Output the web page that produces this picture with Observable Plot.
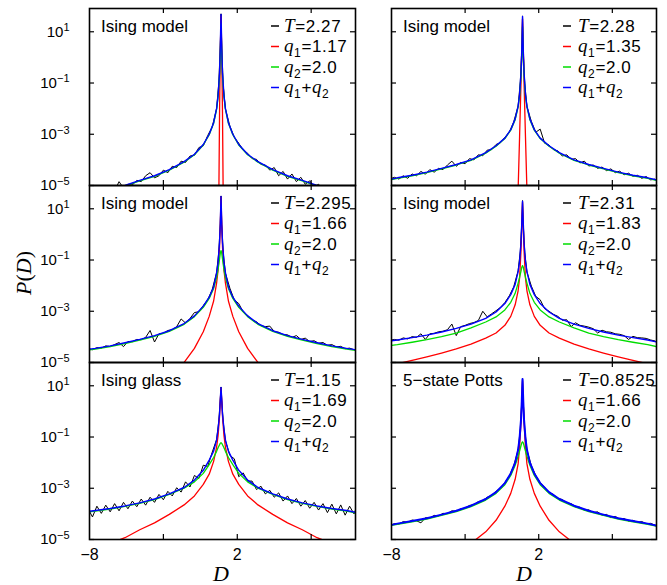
<!DOCTYPE html>
<html><head><meta charset="utf-8">
<script src="https://cdn.jsdelivr.net/npm/d3@7"></script>
<script src="https://cdn.jsdelivr.net/npm/@observablehq/plot@0.6"></script>
<style>
body{margin:0;background:#fff;}
#wrap{position:relative;width:667px;height:585px;overflow:hidden;background:#fff;}
#wrap svg{position:absolute;}
</style></head><body><div id="wrap"></div>
<script>
// ---- labels ----
const titles = ["Ising model","Ising model","Ising model","Ising model","Ising glass","5\u2212state Potts"];
const temps = ["2.27","2.28","2.295","2.31","1.15","0.8525"];
const q1s = ["1.17","1.35","1.66","1.83","1.69","1.66"];
const q2s = ["2.0","2.0","2.0","2.0","2.0","2.0"];
const yTickVals = [1e1, 1e-1, 1e-3, 1e-5];
const xTickVals = [-3, 2, 7];
const xLabelVals = [-8, 2];

// ---- D positions ----
const fitD = [-8,-7.6,-6.6,-5.6,-4.6,-3.6,-2.6,-1.6,-0.9,-0.3,0.1,0.4,0.6,0.7,0.8,0.85,0.9,0.95,1.0,1.1,1.2,1.4,1.7,2.1,2.7,3.4,4.4,5.4,6.4,7.4,8.4,9.4,10];
const blackD = [-8,-7.8,-7.5,-7.2,-6.9,-6.6,-6.3,-6.0,-5.7,-5.4,-5.1,-4.8,-4.5,-4.2,-3.9,-3.6,-3.3,-3.0,-2.7,-2.4,-2.1,-1.8,-1.5,-1.2,-0.9,-0.6,-0.3,0.0,0.3,0.6,
  0.75,0.85,0.9,0.95,1.05,
  1.2,1.5,1.8,2.1,2.4,2.7,3.0,3.3,3.6,3.9,4.2,4.5,4.8,5.1,5.4,5.7,6.0,6.3,6.6,6.9,7.2,7.5,7.8,8.1,8.4,8.7,9.0,9.3,9.6,9.9,10];

// ---- log10 P(D) values ----
// panel 1 : Ising model T=2.27
const black1 = [-5.32,-5.35,-5.2,-5.3,-5.25,-5.05,-5.2,-4.85,-5.1,-4.95,-4.98,-4.8,-4.85,-4.62,-4.5,-4.7,-4.62,-4.4,-4.5,-4.25,-4.3,-4.05,-4.1,-3.85,-3.82,-3.52,-3.45,-3.05,-2.72,-2.0,
  -1.0,0.45,1.7,0.35,-1.1,
  -2.02,-2.68,-3.12,-3.35,-3.62,-3.74,-3.95,-3.98,-4.18,-4.2,-4.4,-4.3,-4.62,-4.45,-4.75,-4.55,-4.85,-4.68,-4.95,-4.82,-5.05,-4.95,-5.15,-5.05,-5.25,-5.15,-5.3,-5.22,-5.35,-5.3,-5.35];
const red1 = [-12,-12,-12,-12,-12,-12,-12,-12,-12,-12,-12,-12,-12,-9,-2.2,0.2,1.6,0.2,-2.2,-9,-12,-12,-12,-12,-12,-12,-12,-12,-12,-12,-12,-12,-12];
const green1 = [-5.34,-5.3,-5.17,-5.02,-4.82,-4.64,-4.4,-4.09,-3.8,-3.42,-3.02,-2.57,-2.03,-1.55,-0.75,0.1,1.3,0.1,-0.75,-1.55,-2.03,-2.57,-3.02,-3.42,-3.8,-4.09,-4.4,-4.64,-4.82,-5.02,-5.17,-5.3,-5.37];
const blue1 = [-5.32,-5.28,-5.15,-5.0,-4.8,-4.62,-4.38,-4.07,-3.78,-3.4,-3.0,-2.55,-2.0,-1.5,-0.6,0.4,1.68,0.4,-0.6,-1.5,-2.0,-2.55,-3.0,-3.4,-3.78,-4.07,-4.38,-4.62,-4.8,-5.0,-5.15,-5.28,-5.35];
// panel 2 : Ising model T=2.28
const black2 = [-4.72,-4.68,-4.75,-4.62,-4.72,-4.55,-4.62,-4.45,-4.56,-4.38,-4.48,-4.33,-4.38,-4.2,-4.05,-4.25,-4.1,-4.15,-3.95,-4.0,-3.8,-3.84,-3.62,-3.6,-3.4,-3.33,-3.12,-2.92,-2.52,-1.9,
  -0.95,0.32,1.62,0.28,-1.02,
  -1.92,-2.5,-2.92,-2.8,-3.35,-3.42,-3.6,-3.65,-3.85,-3.8,-3.98,-3.95,-4.12,-4.05,-4.24,-4.2,-4.33,-4.28,-4.42,-4.35,-4.5,-4.44,-4.58,-4.52,-4.64,-4.6,-4.72,-4.65,-4.78,-4.75,-4.8];
const red2 = [-12,-12,-12,-12,-12,-12,-12,-12,-12,-12,-12,-8.5,-5.2,-3.1,-0.9,0.35,1.5,0.35,-0.9,-3.1,-5.2,-8.5,-12,-12,-12,-12,-12,-12,-12,-12,-12,-12,-12];
const green2 = [-4.77,-4.72,-4.62,-4.5,-4.35,-4.2,-4.02,-3.74,-3.47,-3.17,-2.84,-2.43,-1.94,-1.52,-0.7,0.05,1.2,0.05,-0.7,-1.52,-1.94,-2.43,-2.84,-3.17,-3.47,-3.74,-4.02,-4.2,-4.35,-4.5,-4.62,-4.72,-4.8];
const blue2 = [-4.75,-4.7,-4.6,-4.48,-4.33,-4.18,-4.0,-3.72,-3.45,-3.15,-2.82,-2.4,-1.9,-1.45,-0.55,0.3,1.6,0.3,-0.55,-1.45,-1.9,-2.4,-2.82,-3.15,-3.45,-3.72,-4.0,-4.18,-4.33,-4.48,-4.6,-4.7,-4.78];
// panel 3 : Ising model T=2.295
const black3 = [-4.47,-4.5,-4.42,-4.44,-4.35,-4.38,-4.3,-4.22,-4.38,-4.18,-4.19,-4.1,-4.11,-4.02,-3.75,-4.2,-3.88,-3.86,-3.75,-3.72,-3.6,-3.3,-3.46,-3.28,-3.05,-3.02,-2.78,-2.55,-2.16,-1.5,
  -0.68,0.42,1.5,0.38,-0.72,
  -1.52,-2.1,-2.56,-2.7,-3.03,-3.16,-3.34,-3.41,-3.56,-3.6,-3.58,-3.79,-3.82,-3.91,-3.92,-4.02,-3.95,-4.1,-4.05,-4.18,-4.15,-4.25,-4.22,-4.33,-4.3,-4.39,-4.37,-4.46,-4.44,-4.5,-4.52];
const red3 = [-7.05,-7.0,-6.8,-6.6,-6.3,-6.0,-5.6,-5.0,-4.45,-3.8,-3.2,-2.6,-1.9,-1.4,-0.5,0.35,1.45,0.35,-0.5,-1.4,-1.9,-2.6,-3.2,-3.8,-4.45,-5.0,-5.6,-6.0,-6.3,-6.6,-6.8,-7.0,-7.1];
const green3 = [-4.51,-4.48,-4.38,-4.26,-4.13,-3.98,-3.79,-3.51,-3.21,-2.85,-2.5,-2.11,-1.69,-1.38,-0.96,-0.74,-0.63,-0.74,-0.96,-1.38,-1.69,-2.11,-2.5,-2.85,-3.21,-3.51,-3.79,-3.98,-4.13,-4.26,-4.38,-4.48,-4.53];
const blue3 = [-4.48,-4.45,-4.35,-4.23,-4.1,-3.95,-3.76,-3.48,-3.18,-2.8,-2.45,-2.05,-1.5,-1.1,-0.3,0.4,1.48,0.4,-0.3,-1.1,-1.5,-2.05,-2.45,-2.8,-3.18,-3.48,-3.76,-3.95,-4.1,-4.23,-4.35,-4.45,-4.5];
// panel 4 : Ising model T=2.31
const black4 = [-4.12,-4.1,-4.13,-4.04,-4.08,-3.99,-4.02,-3.88,-4.1,-3.88,-3.86,-3.8,-3.78,-3.72,-3.5,-3.95,-3.6,-3.55,-3.48,-3.44,-3.36,-3.0,-3.22,-3.1,-2.98,-2.85,-2.66,-2.4,-2.05,-1.42,
  -0.65,0.47,1.32,0.43,-0.7,
  -1.47,-2.02,-2.42,-2.55,-2.9,-3.0,-3.12,-3.2,-3.35,-3.33,-3.6,-3.45,-3.55,-3.58,-3.62,-3.68,-3.85,-3.74,-3.8,-3.82,-3.88,-3.9,-3.95,-4.1,-3.98,-4.03,-4.04,-4.06,-4.12,-4.16,-4.2];
const red4 = [-5.1,-5.05,-4.92,-4.78,-4.63,-4.47,-4.28,-4.05,-3.85,-3.55,-3.2,-2.75,-2.2,-1.7,-0.6,0.3,1.25,0.3,-0.6,-1.7,-2.2,-2.75,-3.2,-3.55,-3.85,-4.05,-4.28,-4.47,-4.63,-4.78,-4.92,-5.05,-5.12];
const green4 = [-4.33,-4.3,-4.21,-4.11,-3.99,-3.85,-3.65,-3.42,-3.22,-2.95,-2.65,-2.3,-1.9,-1.68,-1.42,-1.28,-1.22,-1.28,-1.42,-1.68,-1.9,-2.3,-2.65,-2.95,-3.22,-3.42,-3.65,-3.85,-3.99,-4.11,-4.21,-4.3,-4.38];
const blue4 = [-4.15,-4.12,-4.03,-3.93,-3.81,-3.67,-3.5,-3.28,-3.03,-2.7,-2.35,-1.95,-1.45,-1.05,-0.3,0.45,1.3,0.45,-0.3,-1.05,-1.45,-1.95,-2.35,-2.7,-3.03,-3.28,-3.5,-3.67,-3.81,-3.93,-4.03,-4.12,-4.2];
// panel 5 : Ising glass T=1.15
const black5 = [-3.9,-4.12,-3.7,-3.98,-3.66,-3.92,-3.6,-3.88,-3.55,-3.8,-3.5,-3.72,-3.42,-3.66,-3.35,-3.55,-3.24,-3.45,-3.12,-3.3,-2.98,-3.15,-2.75,-2.95,-2.5,-2.62,-2.1,-2.15,-1.6,-1.1,
  -0.38,0.47,0.95,0.42,-0.42,
  -1.15,-1.72,-1.85,-2.55,-2.4,-2.72,-2.72,-3.05,-2.92,-3.22,-3.08,-3.35,-3.18,-3.5,-3.3,-3.6,-3.4,-3.7,-3.48,-3.78,-3.55,-3.85,-3.6,-3.95,-3.62,-4.0,-3.65,-4.05,-3.7,-4.0,-3.85];
const red5 = [-5.42,-5.35,-5.15,-4.93,-4.62,-4.35,-4.02,-3.65,-3.3,-2.85,-2.45,-1.95,-1.4,-0.95,-0.2,0.4,0.9,0.4,-0.2,-0.95,-1.4,-1.95,-2.45,-2.85,-3.3,-3.65,-4.02,-4.35,-4.62,-4.93,-5.15,-5.35,-5.45];
const green5 = [-3.92,-3.89,-3.81,-3.71,-3.59,-3.44,-3.24,-3.0,-2.75,-2.42,-2.08,-1.8,-1.56,-1.42,-1.3,-1.25,-1.22,-1.25,-1.3,-1.42,-1.56,-1.8,-2.08,-2.42,-2.75,-3.0,-3.24,-3.44,-3.59,-3.71,-3.81,-3.89,-3.96];
const blue5 = [-3.9,-3.87,-3.79,-3.69,-3.57,-3.42,-3.22,-2.97,-2.68,-2.3,-1.9,-1.55,-1.12,-0.7,-0.1,0.45,0.93,0.45,-0.1,-0.7,-1.12,-1.55,-1.9,-2.3,-2.68,-2.97,-3.22,-3.42,-3.57,-3.69,-3.79,-3.87,-3.94];
// panel 6 : 5-state Potts T=0.8525
const black6 = [-4.43,-4.38,-4.4,-4.3,-4.33,-4.24,-4.27,-4.35,-4.15,-4.16,-4.06,-4.08,-3.98,-3.99,-3.88,-3.9,-3.8,-3.78,-3.67,-3.64,-3.52,-3.48,-3.35,-3.28,-3.12,-2.99,-2.78,-2.52,-2.13,-1.5,
  -0.66,0.42,1.28,0.38,-0.7,
  -1.51,-2.12,-2.5,-2.78,-2.96,-3.17,-3.24,-3.4,-3.44,-3.57,-3.6,-3.72,-3.74,-3.86,-3.84,-3.95,-3.92,-4.05,-4.02,-4.15,-4.1,-4.2,-4.18,-4.28,-4.25,-4.33,-4.3,-4.38,-4.37,-4.44,-4.46];
const red6 = [-6.55,-6.5,-6.3,-6.05,-5.8,-5.5,-5.15,-4.7,-4.25,-3.7,-3.2,-2.65,-2.05,-1.4,-0.4,0.3,1.2,0.3,-0.4,-1.4,-2.05,-2.65,-3.2,-3.7,-4.25,-4.7,-5.15,-5.5,-5.8,-6.05,-6.3,-6.5,-6.6];
const green6 = [-4.45,-4.41,-4.31,-4.2,-4.06,-3.91,-3.72,-3.46,-3.2,-2.86,-2.5,-2.1,-1.75,-1.55,-1.33,-1.23,-1.19,-1.23,-1.33,-1.55,-1.75,-2.1,-2.5,-2.86,-3.2,-3.46,-3.72,-3.91,-4.06,-4.2,-4.31,-4.41,-4.48];
const blue6 = [-4.43,-4.38,-4.28,-4.17,-4.03,-3.88,-3.68,-3.42,-3.15,-2.8,-2.42,-2.0,-1.5,-1.05,-0.3,0.4,1.26,0.4,-0.3,-1.05,-1.5,-2.0,-2.42,-2.8,-3.15,-3.42,-3.68,-3.88,-4.03,-4.17,-4.28,-4.38,-4.46];

const blacks = [black1,black2,black3,black4,black5,black6];
const reds = [red1,red2,red3,red4,red5,red6];
const greens = [green1,green2,green3,green4,green5,green6];
const blues = [blue1,blue2,blue3,blue4,blue5,blue6];

const toRows = (D, vals) => D.map((x, i) => ({D: x, P: Math.pow(10, vals[i])}));

const cols = [{left: 0, width: 360, ml: 89, mr: 5, sx: 182, tx: 195},
              {left: 360, width: 307, ml: 31, mr: 11, sx: 172, tx: 187}];
const rowTop = [8, 185, 362];
const frameH = 177;
const colors = ["black", "#ff0000", "#00dd00", "#0000ff"];
const SANS = "'Liberation Sans', Arial, Helvetica, sans-serif";
const SERIF = "'Liberation Serif', 'Times New Roman', serif";
const wrap = document.getElementById("wrap");

function richText(sel, parts, base) {
  let shifted = 0;
  for (const p of parts) {
    const t = sel.append("tspan").text(p.t);
    let dy = 0;
    if (p.sub && !shifted) { dy = 5; shifted = 1; }
    else if (!p.sub && shifted) { dy = -5; shifted = 0; }
    if (dy) t.attr("dy", dy);
    if (p.it) t.style("font-family", SERIF).style("font-style", "italic").style("font-size", (base + 2) + "px");
    if (p.sub) t.style("font-size", "12px");
  }
}

for (let i = 0; i < 6; i++) {
  const col = i % 2, row = Math.floor(i / 2);
  const c = cols[col];
  const mt = 8, mb = row === 2 ? 46 : 8;
  const height = mt + frameH + mb;
  const fw = c.width - c.ml - c.mr;
  const svg = Plot.plot({
    width: c.width, height,
    marginLeft: c.ml, marginRight: c.mr, marginTop: mt, marginBottom: mb,
    style: {background: "transparent", overflow: "visible", fontFamily: SANS, fontSize: "16px", color: "black"},
    x: {domain: [-8, 10], ticks: xLabelVals, tickFormat: d => d < 0 ? "\u2212" + Math.abs(d) : String(d),
        tickSize: 0, tickPadding: 9, label: null, axis: row === 2 ? "bottom" : null},
    y: {type: "log", domain: [1e-5, 81], ticks: yTickVals, tickFormat: d => "10^" + Math.round(Math.log10(d)),
        tickSize: 0, tickPadding: 20, label: null, axis: col === 0 ? "left" : null},
    marks: [
      Plot.line(toRows(blackD, blacks[i]), {x: "D", y: "P", stroke: colors[0], strokeWidth: 1, clip: true}),
      Plot.line(toRows(fitD, reds[i]), {x: "D", y: "P", stroke: colors[1], strokeWidth: 1.3, clip: true}),
      Plot.line(toRows(fitD, greens[i]), {x: "D", y: "P", stroke: colors[2], strokeWidth: 1.3, clip: true}),
      Plot.line(toRows(fitD, blues[i]), {x: "D", y: "P", stroke: colors[3], strokeWidth: i === 5 ? 2 : 1.4, clip: true}),
      Plot.ruleY(yTickVals, {y: d => d, insetRight: fw - 5, stroke: "black", strokeWidth: 1.2}),
      Plot.ruleY(yTickVals, {y: d => d, insetLeft: fw - 5, stroke: "black", strokeWidth: 1.2}),
      Plot.ruleX(xTickVals, {x: d => d, insetTop: frameH - 5, stroke: "black", strokeWidth: 1.2}),
      Plot.ruleX(xTickVals, {x: d => d, insetBottom: frameH - 5, stroke: "black", strokeWidth: 1.2}),
      Plot.frame({stroke: "black", strokeWidth: 1.6})
    ]
  });
  svg.style.left = c.left + "px";
  svg.style.top = (rowTop[row] - mt) + "px";
  wrap.appendChild(svg);

  // y tick labels: 10 with superscript exponent
  svg.querySelectorAll("text").forEach(t => {
    const m = /^10\^(-?\d+)$/.exec(t.textContent);
    if (m) {
      const e = +m[1];
      t.textContent = "";
      const s = d3.select(t).style("font-size", "15px");
      s.append("tspan").text("10");
      s.append("tspan").attr("dy", "-0.5em").style("font-size", "11px").text((e < 0 ? "\u2212" : "") + Math.abs(e));
    }
  });

  const g = d3.select(svg).append("g").attr("transform", `translate(${c.ml},${mt})`)
    .attr("text-anchor", "start").style("font-family", SANS).style("fill", "black");
  g.append("text").attr("x", 12).attr("y", 18).attr("dy", "0.35em").attr("text-anchor", "start")
    .style("font-size", "17px").text(titles[i]);
  const rowsSpec = [
    [{t: "T", it: true}, {t: "=" + temps[i]}],
    [{t: "q", it: true}, {t: "1", sub: true}, {t: "=" + q1s[i]}],
    [{t: "q", it: true}, {t: "2", sub: true}, {t: "=" + q2s[i]}],
    [{t: "q", it: true}, {t: "1", sub: true}, {t: "+"}, {t: "q", it: true}, {t: "2", sub: true}]
  ];
  rowsSpec.forEach((parts, k) => {
    const y = 18 + k * 20.5;
    g.append("line").attr("x1", c.sx).attr("x2", c.sx + 8).attr("y1", y).attr("y2", y)
      .attr("stroke", colors[k]).attr("stroke-width", 1.5);
    const t = g.append("text").attr("x", c.tx).attr("y", y).attr("dy", "0.35em").attr("text-anchor", "start")
      .style("font-size", "17px").style("letter-spacing", "0.6px");
    richText(t, parts, 17);
  });

  if (row === 2) {
    const cx = col === 0 ? 221 : 164;
    d3.select(svg).append("text").attr("x", cx).attr("y", 227).attr("text-anchor", "middle")
      .style("font-family", SERIF).style("font-style", "italic").style("font-size", "22px").text("D");
  }
  if (i === 2) {
    const t = d3.select(svg).append("text").attr("transform", "translate(31,96) rotate(-90)")
      .attr("text-anchor", "middle").style("font-family", SERIF).style("font-size", "22px");
    t.append("tspan").style("font-style", "italic").text("P");
    t.append("tspan").text("(");
    t.append("tspan").style("font-style", "italic").text("D");
    t.append("tspan").text(")");
  }
}
</script></body></html>
